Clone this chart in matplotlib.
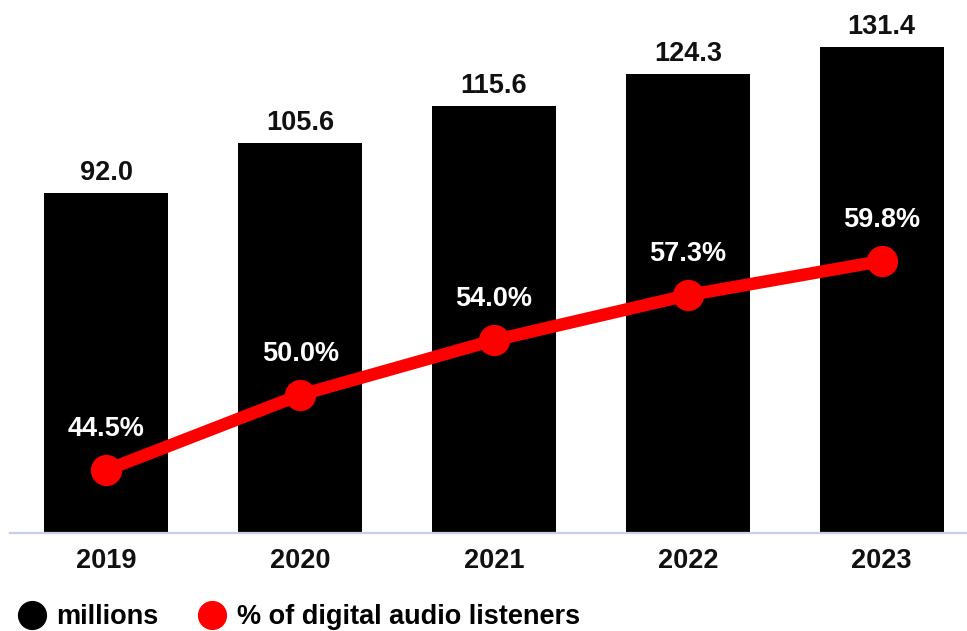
import matplotlib.pyplot as plt
from matplotlib.lines import Line2D

plt.rcParams['font.family'] = ['Liberation Sans', 'DejaVu Sans']

years = ['2019', '2020', '2021', '2022', '2023']
millions = [92.0, 105.6, 115.6, 124.3, 131.4]
pct_listeners = [44.5, 50.0, 54.0, 57.3, 59.8]

W, H = 967, 631
fig = plt.figure(figsize=(W / 100, H / 100), dpi=100)
ax = fig.add_axes([10 / W, (H - 533) / H, 1 - 10 / W, 533 / H])

x = range(len(years))
ax.bar(x, millions, width=0.64, color='black', zorder=2)
for i, v in zip(x, millions):
    ax.annotate(f'{v:.1f}', (i, v), xytext=(0, 9.5), textcoords='offset points',
                ha='center', va='baseline', fontsize=19.5, fontweight='bold', color='#111111')

ax.set_xlim(-0.498, 4.441)
ax.set_ylim(0, 144.25)
ax.set_yticks([])
ax.set_xticks(list(x))
ax.set_xticklabels(years, fontsize=19.5, fontweight='bold', color='#111111')
ax.tick_params(axis='x', length=0, pad=11)
for s in ['top', 'left', 'right']:
    ax.spines[s].set_visible(False)
ax.spines['bottom'].set_color('#c5d0e6')
ax.spines['bottom'].set_linewidth(1.6)

ax2 = ax.twinx()
ax2.plot(list(x), pct_listeners, color='#ff0000', linewidth=9, marker='o',
         markersize=21.5, solid_capstyle='round', zorder=3)
for i, v in zip(x, pct_listeners):
    ax2.annotate(f'{v:.1f}%', (i, v), xytext=(0, 24.5), textcoords='offset points',
                 ha='center', va='baseline', fontsize=19.5, fontweight='bold', color='white')
ax2.set_ylim(39.89, 78.91)
ax2.set_yticks([])
for s in ['top', 'left', 'right', 'bottom']:
    ax2.spines[s].set_visible(False)

handles = [
    Line2D([], [], linestyle='none', marker='o', markersize=20, color='black'),
    Line2D([], [], linestyle='none', marker='o', markersize=20, color='#ff0000'),
]
fig.legend(handles, ['millions', '% of digital audio listeners'], ncol=2, frameon=False,
           loc='lower left', bbox_to_anchor=(18 / W, 1 / H), borderpad=0, borderaxespad=0,
           handlelength=1.0, handletextpad=0.4, columnspacing=1.5,
           prop={'size': 19.5, 'weight': 'bold'})

fig.savefig('out.png', dpi=100)
